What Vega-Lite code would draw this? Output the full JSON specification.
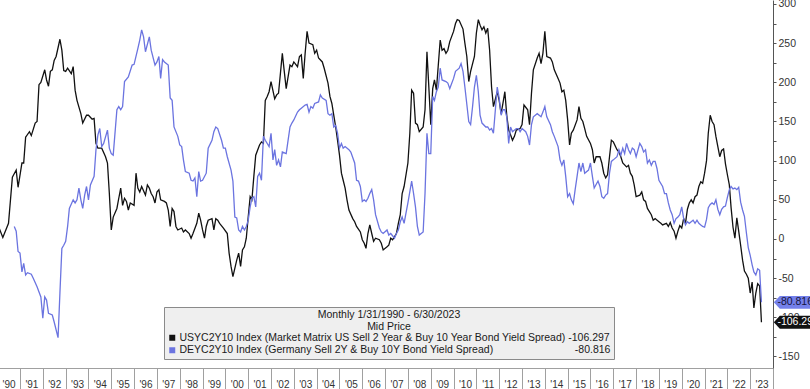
{
  "$schema": "https://vega.github.io/schema/vega-lite/v6.json",
  "width": 773,
  "height": 368,
  "autosize": {"type": "none"},
  "padding": {"left": 0, "top": 0, "right": 37, "bottom": 21},
  "background": "white",
  "config": {
    "view": {"stroke": null},
    "locale": {"number": {"decimal": ".", "thousands": ",", "grouping": [3], "currency": ["$", ""], "minus": "-"}},
    "font": "Liberation Sans"
  },
  "data": {
    "values": [
      {"date":"1990-02","series":"US","value":14},{"date":"1990-04","series":"US","value":2},{"date":"1990-07","series":"US","value":20},{"date":"1990-09","series":"US","value":79},{"date":"1990-11","series":"US","value":88},{"date":"1990-12","series":"US","value":66},
      {"date":"1991-02","series":"US","value":97},{"date":"1991-03","series":"US","value":97},{"date":"1991-04","series":"US","value":130},{"date":"1991-06","series":"US","value":137},{"date":"1991-07","series":"US","value":132},{"date":"1991-09","series":"US","value":148},{"date":"1991-10","series":"US","value":150},{"date":"1991-11","series":"US","value":197},{"date":"1991-12","series":"US","value":200},
      {"date":"1992-02","series":"US","value":216},{"date":"1992-03","series":"US","value":203},{"date":"1992-04","series":"US","value":195},{"date":"1992-05","series":"US","value":214},{"date":"1992-06","series":"US","value":216},{"date":"1992-07","series":"US","value":228},{"date":"1992-08","series":"US","value":233},{"date":"1992-10","series":"US","value":255},{"date":"1992-11","series":"US","value":241},{"date":"1992-12","series":"US","value":215},
      {"date":"1993-01","series":"US","value":214},{"date":"1993-02","series":"US","value":218},{"date":"1993-04","series":"US","value":211},{"date":"1993-05","series":"US","value":220},{"date":"1993-06","series":"US","value":190},{"date":"1993-07","series":"US","value":177},{"date":"1993-09","series":"US","value":160},{"date":"1993-10","series":"US","value":148},{"date":"1993-12","series":"US","value":158},
      {"date":"1994-01","series":"US","value":158},{"date":"1994-03","series":"US","value":153},{"date":"1994-04","series":"US","value":154},{"date":"1994-05","series":"US","value":122},{"date":"1994-06","series":"US","value":116},{"date":"1994-08","series":"US","value":116},{"date":"1994-10","series":"US","value":105},{"date":"1994-11","series":"US","value":97},{"date":"1994-12","series":"US","value":58},
      {"date":"1995-01","series":"US","value":11.5},{"date":"1995-02","series":"US","value":28},{"date":"1995-04","series":"US","value":39},{"date":"1995-05","series":"US","value":52},{"date":"1995-06","series":"US","value":65},{"date":"1995-07","series":"US","value":43},{"date":"1995-08","series":"US","value":52},{"date":"1995-09","series":"US","value":48},{"date":"1995-10","series":"US","value":37},{"date":"1995-11","series":"US","value":46},
      {"date":"1996-01","series":"US","value":43},{"date":"1996-02","series":"US","value":84},{"date":"1996-03","series":"US","value":65},{"date":"1996-04","series":"US","value":60},{"date":"1996-05","series":"US","value":67},{"date":"1996-07","series":"US","value":56},{"date":"1996-08","series":"US","value":69},{"date":"1996-09","series":"US","value":65},{"date":"1996-10","series":"US","value":58},{"date":"1996-11","series":"US","value":54},{"date":"1996-12","series":"US","value":46},
      {"date":"1997-01","series":"US","value":60},{"date":"1997-02","series":"US","value":63},{"date":"1997-03","series":"US","value":50},{"date":"1997-05","series":"US","value":48},{"date":"1997-06","series":"US","value":46},{"date":"1997-07","series":"US","value":37},{"date":"1997-08","series":"US","value":16},{"date":"1997-09","series":"US","value":39},{"date":"1997-10","series":"US","value":35},{"date":"1997-11","series":"US","value":16},{"date":"1997-12","series":"US","value":11.5},
      {"date":"1998-02","series":"US","value":14},{"date":"1998-03","series":"US","value":9},{"date":"1998-04","series":"US","value":11.5},{"date":"1998-06","series":"US","value":7},{"date":"1998-07","series":"US","value":1},{"date":"1998-08","series":"US","value":7},{"date":"1998-10","series":"US","value":20},{"date":"1998-11","series":"US","value":33},{"date":"1998-12","series":"US","value":24},
      {"date":"1999-01","series":"US","value":11.5},{"date":"1999-02","series":"US","value":1},{"date":"1999-03","series":"US","value":16},{"date":"1999-04","series":"US","value":24},{"date":"1999-06","series":"US","value":26},{"date":"1999-07","series":"US","value":11.5},{"date":"1999-08","series":"US","value":26},{"date":"1999-09","series":"US","value":24},{"date":"1999-10","series":"US","value":20},{"date":"1999-12","series":"US","value":14},
      {"date":"2000-02","series":"US","value":7},{"date":"2000-03","series":"US","value":-18},{"date":"2000-04","series":"US","value":-35},{"date":"2000-05","series":"US","value":-48},{"date":"2000-07","series":"US","value":-27},{"date":"2000-08","series":"US","value":-18},{"date":"2000-09","series":"US","value":-35},{"date":"2000-10","series":"US","value":-14},{"date":"2000-11","series":"US","value":-10},{"date":"2000-12","series":"US","value":1},
      {"date":"2001-01","series":"US","value":28},{"date":"2001-02","series":"US","value":54},{"date":"2001-03","series":"US","value":50},{"date":"2001-04","series":"US","value":80},{"date":"2001-05","series":"US","value":107},{"date":"2001-07","series":"US","value":120},{"date":"2001-08","series":"US","value":124},{"date":"2001-09","series":"US","value":122},{"date":"2001-10","series":"US","value":177},{"date":"2001-11","series":"US","value":182},{"date":"2001-12","series":"US","value":188},
      {"date":"2002-01","series":"US","value":201},{"date":"2002-03","series":"US","value":179},{"date":"2002-04","series":"US","value":184},{"date":"2002-05","series":"US","value":186},{"date":"2002-07","series":"US","value":237},{"date":"2002-08","series":"US","value":214},{"date":"2002-09","series":"US","value":192},{"date":"2002-10","series":"US","value":207},{"date":"2002-11","series":"US","value":222},{"date":"2002-12","series":"US","value":220},
      {"date":"2003-01","series":"US","value":226},{"date":"2003-03","series":"US","value":220},{"date":"2003-04","series":"US","value":233},{"date":"2003-05","series":"US","value":235},{"date":"2003-06","series":"US","value":205},{"date":"2003-07","series":"US","value":237},{"date":"2003-08","series":"US","value":265},{"date":"2003-09","series":"US","value":250},{"date":"2003-11","series":"US","value":248},{"date":"2003-12","series":"US","value":237},
      {"date":"2004-01","series":"US","value":241},{"date":"2004-02","series":"US","value":231},{"date":"2004-04","series":"US","value":226},{"date":"2004-05","series":"US","value":218},{"date":"2004-07","series":"US","value":199},{"date":"2004-08","series":"US","value":182},{"date":"2004-09","series":"US","value":173},{"date":"2004-10","series":"US","value":158},{"date":"2004-11","series":"US","value":143},{"date":"2004-12","series":"US","value":126},
      {"date":"2005-01","series":"US","value":107},{"date":"2005-02","series":"US","value":84},{"date":"2005-03","series":"US","value":75},{"date":"2005-04","series":"US","value":65},{"date":"2005-05","series":"US","value":50},{"date":"2005-06","series":"US","value":37},{"date":"2005-08","series":"US","value":26},{"date":"2005-09","series":"US","value":22},{"date":"2005-10","series":"US","value":16},{"date":"2005-12","series":"US","value":9},
      {"date":"2006-01","series":"US","value":-1},{"date":"2006-02","series":"US","value":-5.5},{"date":"2006-03","series":"US","value":-12},{"date":"2006-04","series":"US","value":7},{"date":"2006-05","series":"US","value":18},{"date":"2006-06","series":"US","value":7},{"date":"2006-07","series":"US","value":-3},{"date":"2006-08","series":"US","value":1},{"date":"2006-10","series":"US","value":-1},{"date":"2006-11","series":"US","value":-5.5},{"date":"2006-12","series":"US","value":-14},
      {"date":"2007-02","series":"US","value":-10},{"date":"2007-03","series":"US","value":-8},{"date":"2007-04","series":"US","value":1},{"date":"2007-05","series":"US","value":-1},{"date":"2007-07","series":"US","value":7},{"date":"2007-08","series":"US","value":20},{"date":"2007-09","series":"US","value":31},{"date":"2007-10","series":"US","value":58},{"date":"2007-11","series":"US","value":67},
      {"date":"2008-01","series":"US","value":97},{"date":"2008-02","series":"US","value":135},{"date":"2008-03","series":"US","value":190},{"date":"2008-04","series":"US","value":186},{"date":"2008-05","series":"US","value":148},{"date":"2008-06","series":"US","value":146},{"date":"2008-07","series":"US","value":137},{"date":"2008-09","series":"US","value":143},{"date":"2008-10","series":"US","value":165},{"date":"2008-11","series":"US","value":239},{"date":"2008-12","series":"US","value":194},
      {"date":"2009-01","series":"US","value":146},{"date":"2009-02","series":"US","value":192},{"date":"2009-03","series":"US","value":203},{"date":"2009-04","series":"US","value":190},{"date":"2009-06","series":"US","value":254},{"date":"2009-07","series":"US","value":241},{"date":"2009-08","series":"US","value":243},{"date":"2009-09","series":"US","value":237},{"date":"2009-10","series":"US","value":241},{"date":"2009-11","series":"US","value":252},
      {"date":"2010-01","series":"US","value":265},{"date":"2010-02","series":"US","value":275},{"date":"2010-03","series":"US","value":280},{"date":"2010-04","series":"US","value":279},{"date":"2010-06","series":"US","value":268},{"date":"2010-07","series":"US","value":250},{"date":"2010-08","series":"US","value":233},{"date":"2010-09","series":"US","value":201},{"date":"2010-10","series":"US","value":214},{"date":"2010-12","series":"US","value":233},
      {"date":"2011-01","series":"US","value":263},{"date":"2011-02","series":"US","value":280},{"date":"2011-03","series":"US","value":273},{"date":"2011-04","series":"US","value":267},{"date":"2011-05","series":"US","value":271},{"date":"2011-06","series":"US","value":263},{"date":"2011-07","series":"US","value":269},{"date":"2011-08","series":"US","value":241},{"date":"2011-09","series":"US","value":194},{"date":"2011-10","series":"US","value":169},{"date":"2011-12","series":"US","value":188},
      {"date":"2012-01","series":"US","value":177},{"date":"2012-02","series":"US","value":160},{"date":"2012-03","series":"US","value":173},{"date":"2012-04","series":"US","value":188},{"date":"2012-05","series":"US","value":158},{"date":"2012-06","series":"US","value":139},{"date":"2012-07","series":"US","value":133},{"date":"2012-08","series":"US","value":126},{"date":"2012-09","series":"US","value":131},{"date":"2012-10","series":"US","value":139},{"date":"2012-12","series":"US","value":141},
      {"date":"2013-01","series":"US","value":146},{"date":"2013-02","series":"US","value":171},{"date":"2013-04","series":"US","value":165},{"date":"2013-05","series":"US","value":146},{"date":"2013-06","series":"US","value":186},{"date":"2013-07","series":"US","value":216},{"date":"2013-09","series":"US","value":231},{"date":"2013-10","series":"US","value":237},{"date":"2013-11","series":"US","value":224},{"date":"2013-12","series":"US","value":237},
      {"date":"2014-01","series":"US","value":265},{"date":"2014-02","series":"US","value":233},{"date":"2014-04","series":"US","value":231},{"date":"2014-05","series":"US","value":226},{"date":"2014-06","series":"US","value":216},{"date":"2014-08","series":"US","value":205},{"date":"2014-09","series":"US","value":199},{"date":"2014-10","series":"US","value":188},{"date":"2014-11","series":"US","value":190},{"date":"2014-12","series":"US","value":177},
      {"date":"2015-01","series":"US","value":152},{"date":"2015-02","series":"US","value":120},{"date":"2015-03","series":"US","value":135},{"date":"2015-04","series":"US","value":139},{"date":"2015-06","series":"US","value":152},{"date":"2015-07","series":"US","value":169},{"date":"2015-08","series":"US","value":154},{"date":"2015-09","series":"US","value":150},{"date":"2015-10","series":"US","value":141},{"date":"2015-11","series":"US","value":131},
      {"date":"2016-01","series":"US","value":122},{"date":"2016-02","series":"US","value":114},{"date":"2016-03","series":"US","value":97},{"date":"2016-04","series":"US","value":105},{"date":"2016-06","series":"US","value":105},{"date":"2016-07","series":"US","value":97},{"date":"2016-08","series":"US","value":84},{"date":"2016-09","series":"US","value":78},{"date":"2016-10","series":"US","value":82},{"date":"2016-11","series":"US","value":105},{"date":"2016-12","series":"US","value":126},
      {"date":"2017-01","series":"US","value":124},{"date":"2017-03","series":"US","value":114},{"date":"2017-04","series":"US","value":111},{"date":"2017-05","series":"US","value":105},{"date":"2017-06","series":"US","value":97},{"date":"2017-08","series":"US","value":92},{"date":"2017-09","series":"US","value":94},{"date":"2017-10","series":"US","value":84},{"date":"2017-11","series":"US","value":80},{"date":"2017-12","series":"US","value":69},
      {"date":"2018-01","series":"US","value":54},{"date":"2018-03","series":"US","value":56},{"date":"2018-04","series":"US","value":60},{"date":"2018-05","series":"US","value":50},{"date":"2018-06","series":"US","value":48},{"date":"2018-07","series":"US","value":39},{"date":"2018-09","series":"US","value":31},{"date":"2018-10","series":"US","value":24},{"date":"2018-11","series":"US","value":26},
      {"date":"2019-01","series":"US","value":22},{"date":"2019-02","series":"US","value":20},{"date":"2019-03","series":"US","value":18},{"date":"2019-05","series":"US","value":20},{"date":"2019-06","series":"US","value":16},{"date":"2019-07","series":"US","value":21},{"date":"2019-08","series":"US","value":14},{"date":"2019-09","series":"US","value":10},{"date":"2019-10","series":"US","value":1},{"date":"2019-11","series":"US","value":10},{"date":"2019-12","series":"US","value":17},
      {"date":"2020-01","series":"US","value":14},{"date":"2020-02","series":"US","value":26},{"date":"2020-03","series":"US","value":20},{"date":"2020-04","series":"US","value":38},{"date":"2020-05","series":"US","value":46},{"date":"2020-06","series":"US","value":50},{"date":"2020-07","series":"US","value":46},{"date":"2020-08","series":"US","value":54},{"date":"2020-09","series":"US","value":56},{"date":"2020-10","series":"US","value":67},{"date":"2020-11","series":"US","value":73},{"date":"2020-12","series":"US","value":71},
      {"date":"2021-01","series":"US","value":84},{"date":"2021-02","series":"US","value":100},{"date":"2021-03","series":"US","value":135},{"date":"2021-04","series":"US","value":158},{"date":"2021-05","series":"US","value":150},{"date":"2021-06","series":"US","value":146},{"date":"2021-07","series":"US","value":131},{"date":"2021-08","series":"US","value":118},{"date":"2021-09","series":"US","value":105},{"date":"2021-10","series":"US","value":113},{"date":"2021-11","series":"US","value":115},{"date":"2021-12","series":"US","value":96},
      {"date":"2022-01","series":"US","value":82},{"date":"2022-02","series":"US","value":69},{"date":"2022-03","series":"US","value":40},{"date":"2022-04","series":"US","value":15},{"date":"2022-05","series":"US","value":1},{"date":"2022-06","series":"US","value":27},{"date":"2022-07","series":"US","value":10},{"date":"2022-08","series":"US","value":-8},{"date":"2022-09","series":"US","value":-27},{"date":"2022-10","series":"US","value":-41},{"date":"2022-11","series":"US","value":-45},{"date":"2022-12","series":"US","value":-50},
      {"date":"2023-01","series":"US","value":-69},{"date":"2023-02","series":"US","value":-55},{"date":"2023-03","series":"US","value":-88},{"date":"2023-04","series":"US","value":-69},{"date":"2023-05","series":"US","value":-57},{"date":"2023-06","series":"US","value":-60},{"date":"2023-06-30","series":"US","value":-106.297},

      {"date":"1990-10","series":"DE","value":16},{"date":"1990-11","series":"DE","value":10},{"date":"1990-12","series":"DE","value":-16},
      {"date":"1991-01","series":"DE","value":-18},{"date":"1991-02","series":"DE","value":-42},{"date":"1991-03","series":"DE","value":-31},{"date":"1991-04","series":"DE","value":-46},{"date":"1991-05","series":"DE","value":-43},{"date":"1991-07","series":"DE","value":-45},{"date":"1991-08","series":"DE","value":-50},{"date":"1991-10","series":"DE","value":-61},{"date":"1991-12","series":"DE","value":-74},
      {"date":"1992-01","series":"DE","value":-101},{"date":"1992-02","series":"DE","value":-74},{"date":"1992-03","series":"DE","value":-78},{"date":"1992-04","series":"DE","value":-95},{"date":"1992-06","series":"DE","value":-97},{"date":"1992-07","series":"DE","value":-106},{"date":"1992-09","series":"DE","value":-126},{"date":"1992-10","series":"DE","value":-69},{"date":"1992-11","series":"DE","value":-12},{"date":"1992-12","series":"DE","value":-8},
      {"date":"1993-01","series":"DE","value":-3},{"date":"1993-02","series":"DE","value":16},{"date":"1993-03","series":"DE","value":39},{"date":"1993-05","series":"DE","value":50},{"date":"1993-06","series":"DE","value":46},{"date":"1993-07","series":"DE","value":50},{"date":"1993-08","series":"DE","value":65},{"date":"1993-09","series":"DE","value":50},{"date":"1993-10","series":"DE","value":39},{"date":"1993-11","series":"DE","value":56},{"date":"1993-12","series":"DE","value":67},
      {"date":"1994-01","series":"DE","value":50},{"date":"1994-02","series":"DE","value":69},{"date":"1994-04","series":"DE","value":80},{"date":"1994-05","series":"DE","value":114},{"date":"1994-06","series":"DE","value":133},{"date":"1994-07","series":"DE","value":141},{"date":"1994-08","series":"DE","value":118},{"date":"1994-09","series":"DE","value":122},{"date":"1994-11","series":"DE","value":139},{"date":"1994-12","series":"DE","value":116},
      {"date":"1995-01","series":"DE","value":109},{"date":"1995-02","series":"DE","value":107},{"date":"1995-04","series":"DE","value":165},{"date":"1995-05","series":"DE","value":169},{"date":"1995-06","series":"DE","value":165},{"date":"1995-07","series":"DE","value":169},{"date":"1995-08","series":"DE","value":201},{"date":"1995-10","series":"DE","value":207},{"date":"1995-12","series":"DE","value":222},
      {"date":"1996-01","series":"DE","value":223},{"date":"1996-03","series":"DE","value":243},{"date":"1996-04","series":"DE","value":254},{"date":"1996-05","series":"DE","value":267},{"date":"1996-06","series":"DE","value":258},{"date":"1996-07","series":"DE","value":239},{"date":"1996-09","series":"DE","value":258},{"date":"1996-10","series":"DE","value":241},{"date":"1996-12","series":"DE","value":222},
      {"date":"1997-01","series":"DE","value":226},{"date":"1997-02","series":"DE","value":233},{"date":"1997-03","series":"DE","value":205},{"date":"1997-04","series":"DE","value":229},{"date":"1997-05","series":"DE","value":226},{"date":"1997-07","series":"DE","value":222},{"date":"1997-08","series":"DE","value":180},{"date":"1997-09","series":"DE","value":177},{"date":"1997-10","series":"DE","value":143},{"date":"1997-12","series":"DE","value":131},
      {"date":"1998-01","series":"DE","value":120},{"date":"1998-02","series":"DE","value":118},{"date":"1998-03","series":"DE","value":101},{"date":"1998-04","series":"DE","value":86},{"date":"1998-06","series":"DE","value":84},{"date":"1998-07","series":"DE","value":75},{"date":"1998-08","series":"DE","value":74},{"date":"1998-09","series":"DE","value":78},{"date":"1998-10","series":"DE","value":54},{"date":"1998-11","series":"DE","value":86},{"date":"1998-12","series":"DE","value":74},
      {"date":"1999-01","series":"DE","value":75},{"date":"1999-03","series":"DE","value":84},{"date":"1999-04","series":"DE","value":116},{"date":"1999-06","series":"DE","value":126},{"date":"1999-07","series":"DE","value":137},{"date":"1999-08","series":"DE","value":143},{"date":"1999-09","series":"DE","value":141},{"date":"1999-11","series":"DE","value":126},{"date":"1999-12","series":"DE","value":116},
      {"date":"2000-01","series":"DE","value":116},{"date":"2000-02","series":"DE","value":105},{"date":"2000-04","series":"DE","value":88},{"date":"2000-05","series":"DE","value":74},{"date":"2000-06","series":"DE","value":28},{"date":"2000-07","series":"DE","value":27},{"date":"2000-08","series":"DE","value":11.5},{"date":"2000-09","series":"DE","value":9},{"date":"2000-10","series":"DE","value":16},{"date":"2000-11","series":"DE","value":11.5},{"date":"2000-12","series":"DE","value":16},
      {"date":"2001-01","series":"DE","value":24},{"date":"2001-02","series":"DE","value":41},{"date":"2001-03","series":"DE","value":52},{"date":"2001-04","series":"DE","value":54},{"date":"2001-05","series":"DE","value":41},{"date":"2001-06","series":"DE","value":80},{"date":"2001-07","series":"DE","value":84},{"date":"2001-08","series":"DE","value":75},{"date":"2001-09","series":"DE","value":131},{"date":"2001-10","series":"DE","value":126},{"date":"2001-12","series":"DE","value":118},
      {"date":"2002-01","series":"DE","value":135},{"date":"2002-02","series":"DE","value":101},{"date":"2002-03","series":"DE","value":114},{"date":"2002-04","series":"DE","value":94},{"date":"2002-05","series":"DE","value":101},{"date":"2002-06","series":"DE","value":92},{"date":"2002-07","series":"DE","value":111},{"date":"2002-09","series":"DE","value":109},{"date":"2002-10","series":"DE","value":126},{"date":"2002-11","series":"DE","value":143},{"date":"2002-12","series":"DE","value":148},
      {"date":"2003-01","series":"DE","value":152},{"date":"2003-03","series":"DE","value":162},{"date":"2003-04","series":"DE","value":165},{"date":"2003-05","series":"DE","value":167},{"date":"2003-07","series":"DE","value":171},{"date":"2003-08","series":"DE","value":172},{"date":"2003-09","series":"DE","value":162},{"date":"2003-10","series":"DE","value":169},{"date":"2003-11","series":"DE","value":167},{"date":"2003-12","series":"DE","value":173},
      {"date":"2004-02","series":"DE","value":175},{"date":"2004-03","series":"DE","value":184},{"date":"2004-04","series":"DE","value":180},{"date":"2004-06","series":"DE","value":177},{"date":"2004-07","series":"DE","value":160},{"date":"2004-08","series":"DE","value":158},{"date":"2004-09","series":"DE","value":160},{"date":"2004-10","series":"DE","value":143},{"date":"2004-11","series":"DE","value":145},{"date":"2004-12","series":"DE","value":135},
      {"date":"2005-01","series":"DE","value":116},{"date":"2005-02","series":"DE","value":122},{"date":"2005-03","series":"DE","value":116},{"date":"2005-04","series":"DE","value":118},{"date":"2005-06","series":"DE","value":114},{"date":"2005-07","series":"DE","value":111},{"date":"2005-09","series":"DE","value":97},{"date":"2005-10","series":"DE","value":75},{"date":"2005-11","series":"DE","value":74},{"date":"2005-12","series":"DE","value":67},
      {"date":"2006-01","series":"DE","value":48},{"date":"2006-02","series":"DE","value":50},{"date":"2006-03","series":"DE","value":48},{"date":"2006-04","series":"DE","value":52},{"date":"2006-05","series":"DE","value":58},{"date":"2006-06","series":"DE","value":63},{"date":"2006-07","series":"DE","value":50},{"date":"2006-08","series":"DE","value":31},{"date":"2006-10","series":"DE","value":14},{"date":"2006-11","series":"DE","value":9},{"date":"2006-12","series":"DE","value":7},
      {"date":"2007-02","series":"DE","value":11.5},{"date":"2007-03","series":"DE","value":5},{"date":"2007-04","series":"DE","value":7},{"date":"2007-06","series":"DE","value":1},{"date":"2007-07","series":"DE","value":7},{"date":"2007-08","series":"DE","value":11.5},{"date":"2007-09","series":"DE","value":22},{"date":"2007-10","series":"DE","value":28},{"date":"2007-11","series":"DE","value":20},{"date":"2007-12","series":"DE","value":33},
      {"date":"2008-01","series":"DE","value":46},{"date":"2008-03","series":"DE","value":74},{"date":"2008-04","series":"DE","value":58},{"date":"2008-05","series":"DE","value":41},{"date":"2008-06","series":"DE","value":16},{"date":"2008-07","series":"DE","value":5},{"date":"2008-08","series":"DE","value":7},{"date":"2008-09","series":"DE","value":9},{"date":"2008-10","series":"DE","value":58},{"date":"2008-11","series":"DE","value":135},{"date":"2008-12","series":"DE","value":109},
      {"date":"2009-01","series":"DE","value":109},{"date":"2009-02","series":"DE","value":182},{"date":"2009-03","series":"DE","value":177},{"date":"2009-04","series":"DE","value":188},{"date":"2009-05","series":"DE","value":194},{"date":"2009-06","series":"DE","value":218},{"date":"2009-07","series":"DE","value":203},{"date":"2009-09","series":"DE","value":201},{"date":"2009-10","series":"DE","value":199},{"date":"2009-11","series":"DE","value":192},
      {"date":"2010-01","series":"DE","value":205},{"date":"2010-02","series":"DE","value":214},{"date":"2010-04","series":"DE","value":218},{"date":"2010-05","series":"DE","value":224},{"date":"2010-06","series":"DE","value":214},{"date":"2010-07","series":"DE","value":194},{"date":"2010-08","series":"DE","value":172},{"date":"2010-09","series":"DE","value":150},{"date":"2010-10","series":"DE","value":146},{"date":"2010-11","series":"DE","value":169},{"date":"2010-12","series":"DE","value":194},
      {"date":"2011-01","series":"DE","value":209},{"date":"2011-02","series":"DE","value":188},{"date":"2011-03","series":"DE","value":158},{"date":"2011-04","series":"DE","value":148},{"date":"2011-06","series":"DE","value":143},{"date":"2011-07","series":"DE","value":143},{"date":"2011-08","series":"DE","value":139},{"date":"2011-09","series":"DE","value":141},{"date":"2011-10","series":"DE","value":135},{"date":"2011-11","series":"DE","value":165},{"date":"2011-12","series":"DE","value":194},
      {"date":"2012-01","series":"DE","value":180},{"date":"2012-02","series":"DE","value":158},{"date":"2012-03","series":"DE","value":165},{"date":"2012-04","series":"DE","value":165},{"date":"2012-05","series":"DE","value":156},{"date":"2012-06","series":"DE","value":122},{"date":"2012-07","series":"DE","value":143},{"date":"2012-08","series":"DE","value":137},{"date":"2012-10","series":"DE","value":141},{"date":"2012-11","series":"DE","value":141},{"date":"2012-12","series":"DE","value":137},
      {"date":"2013-01","series":"DE","value":141},{"date":"2013-03","series":"DE","value":137},{"date":"2013-04","series":"DE","value":131},{"date":"2013-05","series":"DE","value":120},{"date":"2013-06","series":"DE","value":146},{"date":"2013-07","series":"DE","value":156},{"date":"2013-08","series":"DE","value":158},{"date":"2013-09","series":"DE","value":160},{"date":"2013-11","series":"DE","value":156},{"date":"2013-12","series":"DE","value":162},
      {"date":"2014-01","series":"DE","value":169},{"date":"2014-02","series":"DE","value":156},{"date":"2014-04","series":"DE","value":146},{"date":"2014-05","series":"DE","value":137},{"date":"2014-06","series":"DE","value":131},{"date":"2014-08","series":"DE","value":118},{"date":"2014-09","series":"DE","value":101},{"date":"2014-10","series":"DE","value":94},{"date":"2014-11","series":"DE","value":101},{"date":"2014-12","series":"DE","value":80},
      {"date":"2015-01","series":"DE","value":54},{"date":"2015-02","series":"DE","value":58},{"date":"2015-03","series":"DE","value":50},{"date":"2015-04","series":"DE","value":45},{"date":"2015-05","series":"DE","value":63},{"date":"2015-06","series":"DE","value":80},{"date":"2015-07","series":"DE","value":97},{"date":"2015-08","series":"DE","value":86},{"date":"2015-09","series":"DE","value":97},{"date":"2015-10","series":"DE","value":84},{"date":"2015-12","series":"DE","value":88},
      {"date":"2016-01","series":"DE","value":97},{"date":"2016-02","series":"DE","value":80},{"date":"2016-03","series":"DE","value":65},{"date":"2016-05","series":"DE","value":74},{"date":"2016-06","series":"DE","value":67},{"date":"2016-07","series":"DE","value":54},{"date":"2016-08","series":"DE","value":52},{"date":"2016-09","series":"DE","value":56},{"date":"2016-10","series":"DE","value":58},{"date":"2016-11","series":"DE","value":84},{"date":"2016-12","series":"DE","value":99},
      {"date":"2017-01","series":"DE","value":101},{"date":"2017-03","series":"DE","value":105},{"date":"2017-04","series":"DE","value":114},{"date":"2017-05","series":"DE","value":107},{"date":"2017-06","series":"DE","value":116},{"date":"2017-07","series":"DE","value":109},{"date":"2017-08","series":"DE","value":122},{"date":"2017-09","series":"DE","value":114},{"date":"2017-10","series":"DE","value":109},{"date":"2017-11","series":"DE","value":116},{"date":"2017-12","series":"DE","value":114},
      {"date":"2018-01","series":"DE","value":105},{"date":"2018-03","series":"DE","value":122},{"date":"2018-04","series":"DE","value":118},{"date":"2018-05","series":"DE","value":111},{"date":"2018-06","series":"DE","value":114},{"date":"2018-07","series":"DE","value":97},{"date":"2018-08","series":"DE","value":101},{"date":"2018-09","series":"DE","value":94},{"date":"2018-10","series":"DE","value":99},{"date":"2018-11","series":"DE","value":99},{"date":"2018-12","series":"DE","value":90},
      {"date":"2019-01","series":"DE","value":75},{"date":"2019-03","series":"DE","value":67},{"date":"2019-04","series":"DE","value":58},{"date":"2019-05","series":"DE","value":58},{"date":"2019-06","series":"DE","value":46},{"date":"2019-07","series":"DE","value":37},{"date":"2019-08","series":"DE","value":31},{"date":"2019-09","series":"DE","value":20},{"date":"2019-10","series":"DE","value":26},{"date":"2019-11","series":"DE","value":28},{"date":"2019-12","series":"DE","value":31},
      {"date":"2020-01","series":"DE","value":41},{"date":"2020-02","series":"DE","value":26},{"date":"2020-03","series":"DE","value":18},{"date":"2020-04","series":"DE","value":22},{"date":"2020-05","series":"DE","value":20},{"date":"2020-06","series":"DE","value":22},{"date":"2020-07","series":"DE","value":24},{"date":"2020-08","series":"DE","value":20},{"date":"2020-09","series":"DE","value":24},{"date":"2020-10","series":"DE","value":20},{"date":"2020-11","series":"DE","value":18},{"date":"2020-12","series":"DE","value":16},
      {"date":"2021-01","series":"DE","value":15},{"date":"2021-02","series":"DE","value":25},{"date":"2021-03","series":"DE","value":40},{"date":"2021-04","series":"DE","value":44},{"date":"2021-05","series":"DE","value":46},{"date":"2021-06","series":"DE","value":44},{"date":"2021-07","series":"DE","value":50},{"date":"2021-08","series":"DE","value":38},{"date":"2021-09","series":"DE","value":31},{"date":"2021-10","series":"DE","value":38},{"date":"2021-11","series":"DE","value":41},{"date":"2021-12","series":"DE","value":42},
      {"date":"2022-01","series":"DE","value":53},{"date":"2022-02","series":"DE","value":63},{"date":"2022-03","series":"DE","value":67},{"date":"2022-04","series":"DE","value":64},{"date":"2022-05","series":"DE","value":65},{"date":"2022-06","series":"DE","value":63},{"date":"2022-07","series":"DE","value":66},{"date":"2022-08","series":"DE","value":47},{"date":"2022-09","series":"DE","value":37},{"date":"2022-10","series":"DE","value":29},{"date":"2022-11","series":"DE","value":8},{"date":"2022-12","series":"DE","value":-11},
      {"date":"2023-01","series":"DE","value":-21},{"date":"2023-02","series":"DE","value":-33},{"date":"2023-03","series":"DE","value":-42},{"date":"2023-04","series":"DE","value":-46},{"date":"2023-05","series":"DE","value":-38},{"date":"2023-06","series":"DE","value":-40},{"date":"2023-06-30","series":"DE","value":-80.816}
    ]
  },
  "encoding": {
    "x": {
      "field": "date",
      "type": "temporal",
      "scale": {"domain": [{"year": 1990, "month": 1, "date": 1}, {"year": 2024, "month": 1, "date": 1}], "range": [-2.8, 773]},
      "axis": {
        "title": null,
        "tickCount": {"interval": "year", "step": 1},
        "labelExpr": "year(datum.value) > 2023 ? '' : \"'\" + timeFormat(datum.value, '%y')",
        "labelOffset": 11.4,
        "labelPadding": -10,
        "labelFont": "Liberation Sans",
        "labelFontSize": 10,
        "labelColor": "#333333",
        "labelOverlap": false,
        "labelFlush": false,
        "labelBound": false,
        "tickSize": 21,
        "tickColor": "#a0a0a0",
        "tickWidth": 1,
        "domainColor": "#a0a0a0",
        "grid": false
      }
    },
    "y": {
      "field": "value",
      "type": "quantitative",
      "scale": {"domain": [-164.7, 305.1], "nice": false, "zero": false},
      "axis": {
        "orient": "right",
        "title": null,
        "values": [-150, -125, -100, -75, -50, -25, 0, 25, 50, 75, 100, 125, 150, 175, 200, 225, 250, 275, 300],
        "labelExpr": "datum.value % 50 == 0 ? '' + datum.value : ''",
        "labelFont": "Liberation Sans",
        "labelFontSize": 10.5,
        "labelColor": "#333333",
        "labelPadding": 2,
        "tickSize": 3,
        "tickColor": "#555555",
        "domainColor": "#555555",
        "grid": false
      }
    }
  },
  "layer": [
    {
      "mark": {"type": "line", "strokeWidth": 1.3, "interpolate": "linear"},
      "encoding": {
        "color": {
          "field": "series",
          "type": "nominal",
          "scale": {"domain": ["US", "DE"], "range": ["#111111", "#6b74e0"]},
          "legend": {
            "orient": "none",
            "legendX": 164,
            "legendY": 307,
            "direction": "vertical",
            "title": ["Monthly 1/31/1990 - 6/30/2023", "Mid Price"],
            "titleFont": "Liberation Sans",
            "titleFontSize": 10.5,
            "titleFontWeight": "normal",
            "titleColor": "#1a1a1a",
            "titleAnchor": "middle",
            "titleAlign": "center",
            "titleLineHeight": 12,
            "titlePadding": 0,
            "labelFont": "Liberation Sans",
            "labelFontSize": 10.5,
            "labelColor": "#1a1a1a",
            "labelLimit": 0,
            "labelOffset": 2,
            "labelExpr": "datum.label == 'US' ? 'USYC2Y10 Index (Market Matrix US Sell 2 Year & Buy 10 Year Bond Yield Spread) -106.297' : 'DEYC2Y10 Index (Germany Sell 2Y & Buy 10Y Bond Yield Spread)\u00a0\u00a0\u00a0\u00a0\u00a0\u00a0\u00a0\u00a0\u00a0\u00a0\u00a0\u00a0\u00a0\u00a0\u00a0\u00a0\u00a0\u00a0\u00a0\u00a0\u00a0\u00a0\u00a0\u00a0\u00a0\u00a0\u00a0\u00a0-80.816'",
            "symbolType": "square",
            "symbolSize": 36,
            "symbolStrokeWidth": 0,
            "rowPadding": 1.5,
            "padding": 3,
            "fillColor": "#efefef",
            "strokeColor": "#8a8a8a",
            "cornerRadius": 0,
            "encode": {"symbols": {"update": {"fill": {"scale": "color", "field": "value"}, "stroke": {"value": "transparent"}, "opacity": {"value": 1}}}}
          }
        }
      }
    },
    {
      "transform": [
        {"joinaggregate": [{"op": "max", "field": "date", "as": "last"}]},
        {"filter": "+datum.date == +datum.last"}
      ],
      "layer": [
        {
          "mark": {"type": "point", "shape": "M -1 0 L -0.72 -0.3 L 1.3 -0.3 L 1.3 0.3 L -0.72 0.3 Z", "size": 1815, "filled": true, "opacity": 1, "strokeWidth": 0, "xOffset": 33.7},
          "encoding": {
            "color": {"condition": {"test": "datum.series == 'US'", "value": "#111111"}, "value": "#7480ea"}
          }
        },
        {
          "mark": {"type": "text", "align": "left", "baseline": "middle", "dx": 16, "font": "Liberation Sans", "fontSize": 10.5},
          "encoding": {
            "text": {"field": "value", "type": "quantitative", "format": ".3f"},
            "color": {"condition": {"test": "datum.series == 'US'", "value": "#ffffff"}, "value": "#14143c"}
          }
        }
      ]
    }
  ]
}
